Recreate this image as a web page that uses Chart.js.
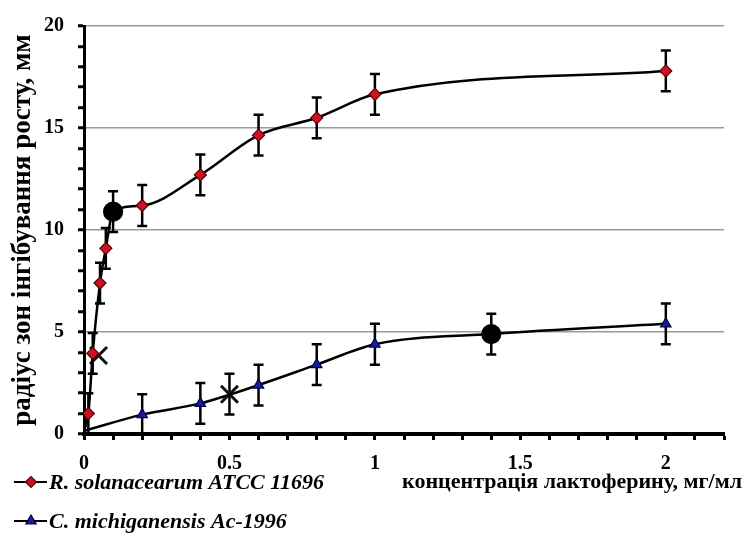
<!DOCTYPE html>
<html>
<head>
<meta charset="utf-8">
<script src="https://cdn.jsdelivr.net/npm/chart.js@4"></script>
<style>
  html, body { margin: 0; padding: 0; background: #fff; }
  #wrap { width: 747px; height: 555px; }
</style>
</head>
<body>
<div id="wrap"><canvas id="zoneChart"></canvas></div>
<script>
// concentration, mg/ml  ->  inhibition zone radius, mm
const redLabel = 'R. solanacearum ATCC 11696';
const redConc = [0, 0.015, 0.03, 0.055, 0.075, 0.1, 0.2, 0.4, 0.6, 0.8, 1, 2];
const redRadius = [0.15, 1.0, 3.95, 7.4, 9.1, 10.9, 11.2, 12.7, 14.65, 15.5, 16.65, 17.8];
const redError = [0, 1, 1, 1, 1, 1, 1, 1, 1, 1, 1, 1];

const blueLabel = 'C. michiganensis Ac-1996';
const blueConc = [0, 0.2, 0.4, 0.6, 0.8, 1, 1.4, 2];
const blueRadius = [0.15, 0.95, 1.5, 2.4, 3.4, 4.4, 4.9, 5.4];
const blueError = [0, 1, 1, 1, 1, 1, 1, 1];

// points shown as a big black dot
const redDotAt = [0.1];
const blueDotAt = [1.4];

// extra points shown as a cross
const crossConc = [0.05, 0.5];
const crossRadius = [3.85, 1.95];
const crossError = [0, 1];

const xTickLabels = [0, 0.5, 1, 1.5, 2];
const yTickLabels = [0, 5, 10, 15, 20];

const xTitle = 'концентрація лактоферину, мг/мл';
const yTitle = 'радіус зон інгібування росту, мм';

const serif = '"Liberation Serif", "Times New Roman", serif';

function toPoints(xs, ys) {
    return xs.map((x, i) => ({ x: x, y: ys[i] }));
}

function pointOpts(conc, dots, fill, border, style) {
    return {
        pointStyle: conc.map(x => dots.includes(x) ? 'circle' : style),
        pointRadius: conc.map((x, i) => i === 0 ? 0 : (dots.includes(x) ? 9.5 : 6)),
        pointBackgroundColor: conc.map(x => dots.includes(x) ? '#000' : fill),
        pointBorderColor: conc.map(x => dots.includes(x) ? '#000' : border),
        pointBorderWidth: 1.2
    };
}

function isTick(v, list) {
    return list.some(t => Math.abs(t - v) < 1e-6);
}

// vertical error bars with caps, drawn under the markers
const errorBars = {
    id: 'errorBars',
    beforeDatasetsDraw(chart) {
        const ctx = chart.ctx;
        const xs = chart.scales.x, ys = chart.scales.y, a = chart.chartArea;
        ctx.save();
        ctx.beginPath();
        ctx.rect(a.left, a.top - 10, a.right - a.left, a.bottom - a.top + 10);
        ctx.clip();
        ctx.strokeStyle = '#000';
        ctx.lineWidth = 2.5;
        chart.data.datasets.forEach(ds => {
            if (!ds.errors) return;
            ds.data.forEach((p, i) => {
                const e = ds.errors[i];
                if (!e) return;
                const x = xs.getPixelForValue(p.x);
                const y1 = ys.getPixelForValue(p.y + e);
                const y2 = ys.getPixelForValue(p.y - e);
                ctx.beginPath();
                ctx.moveTo(x, y1); ctx.lineTo(x, y2);
                ctx.moveTo(x - 5, y1); ctx.lineTo(x + 5, y1);
                ctx.moveTo(x - 5, y2); ctx.lineTo(x + 5, y2);
                ctx.stroke();
            });
        });
        ctx.restore();
    }
};

// legend at bottom left and x axis title at bottom right
const bottomTexts = {
    id: 'bottomTexts',
    afterDraw(chart) {
        const ctx = chart.ctx;
        const items = [
            { label: redLabel, y: 482, style: 'rectRot', fill: '#cc1122', border: '#5a0000', r: 5.5 },
            { label: blueLabel, y: 521, style: 'triangle', fill: '#1a1aa0', border: '#000040', r: 6 }
        ];
        ctx.save();
        items.forEach(it => {
            ctx.strokeStyle = '#000';
            ctx.lineWidth = 2;
            ctx.beginPath();
            ctx.moveTo(14, it.y); ctx.lineTo(47, it.y);
            ctx.stroke();
            ctx.fillStyle = it.fill;
            ctx.strokeStyle = it.border;
            ctx.lineWidth = 1.2;
            Chart.helpers.drawPoint(ctx, { pointStyle: it.style, radius: it.r, borderWidth: 1.2 }, 31, it.y);
            ctx.fillStyle = '#000';
            ctx.font = 'italic bold 22px ' + serif;
            ctx.textAlign = 'left';
            ctx.textBaseline = 'middle';
            ctx.fillText(it.label, 49, it.y + 1);
        });
        ctx.font = 'bold 22px ' + serif;
        ctx.textAlign = 'right';
        ctx.textBaseline = 'middle';
        ctx.fillText(xTitle, 742, 482);
        ctx.restore();
    }
};

document.addEventListener('DOMContentLoaded', function() {
    const ctx = document.getElementById('zoneChart').getContext('2d');
    new Chart(ctx, {
        type: 'scatter',
        data: {
            datasets: [{
                label: redLabel,
                data: toPoints(redConc, redRadius),
                errors: redError,
                showLine: true,
                borderColor: '#000',
                borderWidth: 2.5,
                cubicInterpolationMode: 'monotone',
                ...pointOpts(redConc, redDotAt, '#cc1122', '#5a0000', 'rectRot')
            }, {
                label: blueLabel,
                data: toPoints(blueConc, blueRadius),
                errors: blueError,
                showLine: true,
                borderColor: '#000',
                borderWidth: 2.5,
                cubicInterpolationMode: 'monotone',
                ...pointOpts(blueConc, blueDotAt, '#1a1aa0', '#000040', 'triangle')
            }, {
                label: 'cross',
                data: toPoints(crossConc, crossRadius),
                errors: crossError,
                showLine: false,
                pointStyle: 'crossRot',
                pointRadius: 12,
                pointBorderColor: '#111',
                pointBorderWidth: 3
            }]
        },
        options: {
            responsive: true,
            maintainAspectRatio: false,
            animation: false,
            layout: { padding: { top: 23, right: 23, bottom: 73, left: 0 } },
            plugins: {
                legend: { display: false },
                tooltip: { enabled: false }
            },
            scales: {
                x: {
                    type: 'linear',
                    min: 0,
                    max: 2.2,
                    afterFit: s => { s.height = 48; },
                    ticks: {
                        stepSize: 0.1,
                        autoSkip: false,
                        maxRotation: 0,
                        padding: 12,
                        color: '#000',
                        font: { family: serif, size: 20, weight: 'bold' },
                        callback: v => isTick(v, xTickLabels) ? String(Math.round(v * 10) / 10) : ''
                    },
                    grid: {
                        drawOnChartArea: false,
                        tickColor: '#000',
                        tickLength: 6,
                        tickWidth: 3
                    },
                    border: { color: '#000', width: 4 }
                },
                y: {
                    min: 0,
                    max: 20,
                    afterFit: s => { s.width = 84; },
                    ticks: {
                        stepSize: 1,
                        autoSkip: false,
                        padding: 14,
                        color: '#000',
                        font: { family: serif, size: 20, weight: 'bold' },
                        callback: v => isTick(v, yTickLabels) ? String(v) : ''
                    },
                    grid: {
                        color: c => (c.tick && c.tick.value % 5 === 0) ? '#9a9a9a' : 'rgba(0,0,0,0)',
                        lineWidth: 1.5,
                        tickColor: '#000',
                        tickLength: 6,
                        tickWidth: 3
                    },
                    border: { color: '#000', width: 3 },
                    title: {
                        display: true,
                        text: yTitle,
                        color: '#000',
                        font: { family: serif, size: 27, weight: 'bold' },
                        padding: { top: 7, bottom: 0 }
                    }
                }
            }
        },
        plugins: [errorBars, bottomTexts]
    });
});
</script>
</body>
</html>
